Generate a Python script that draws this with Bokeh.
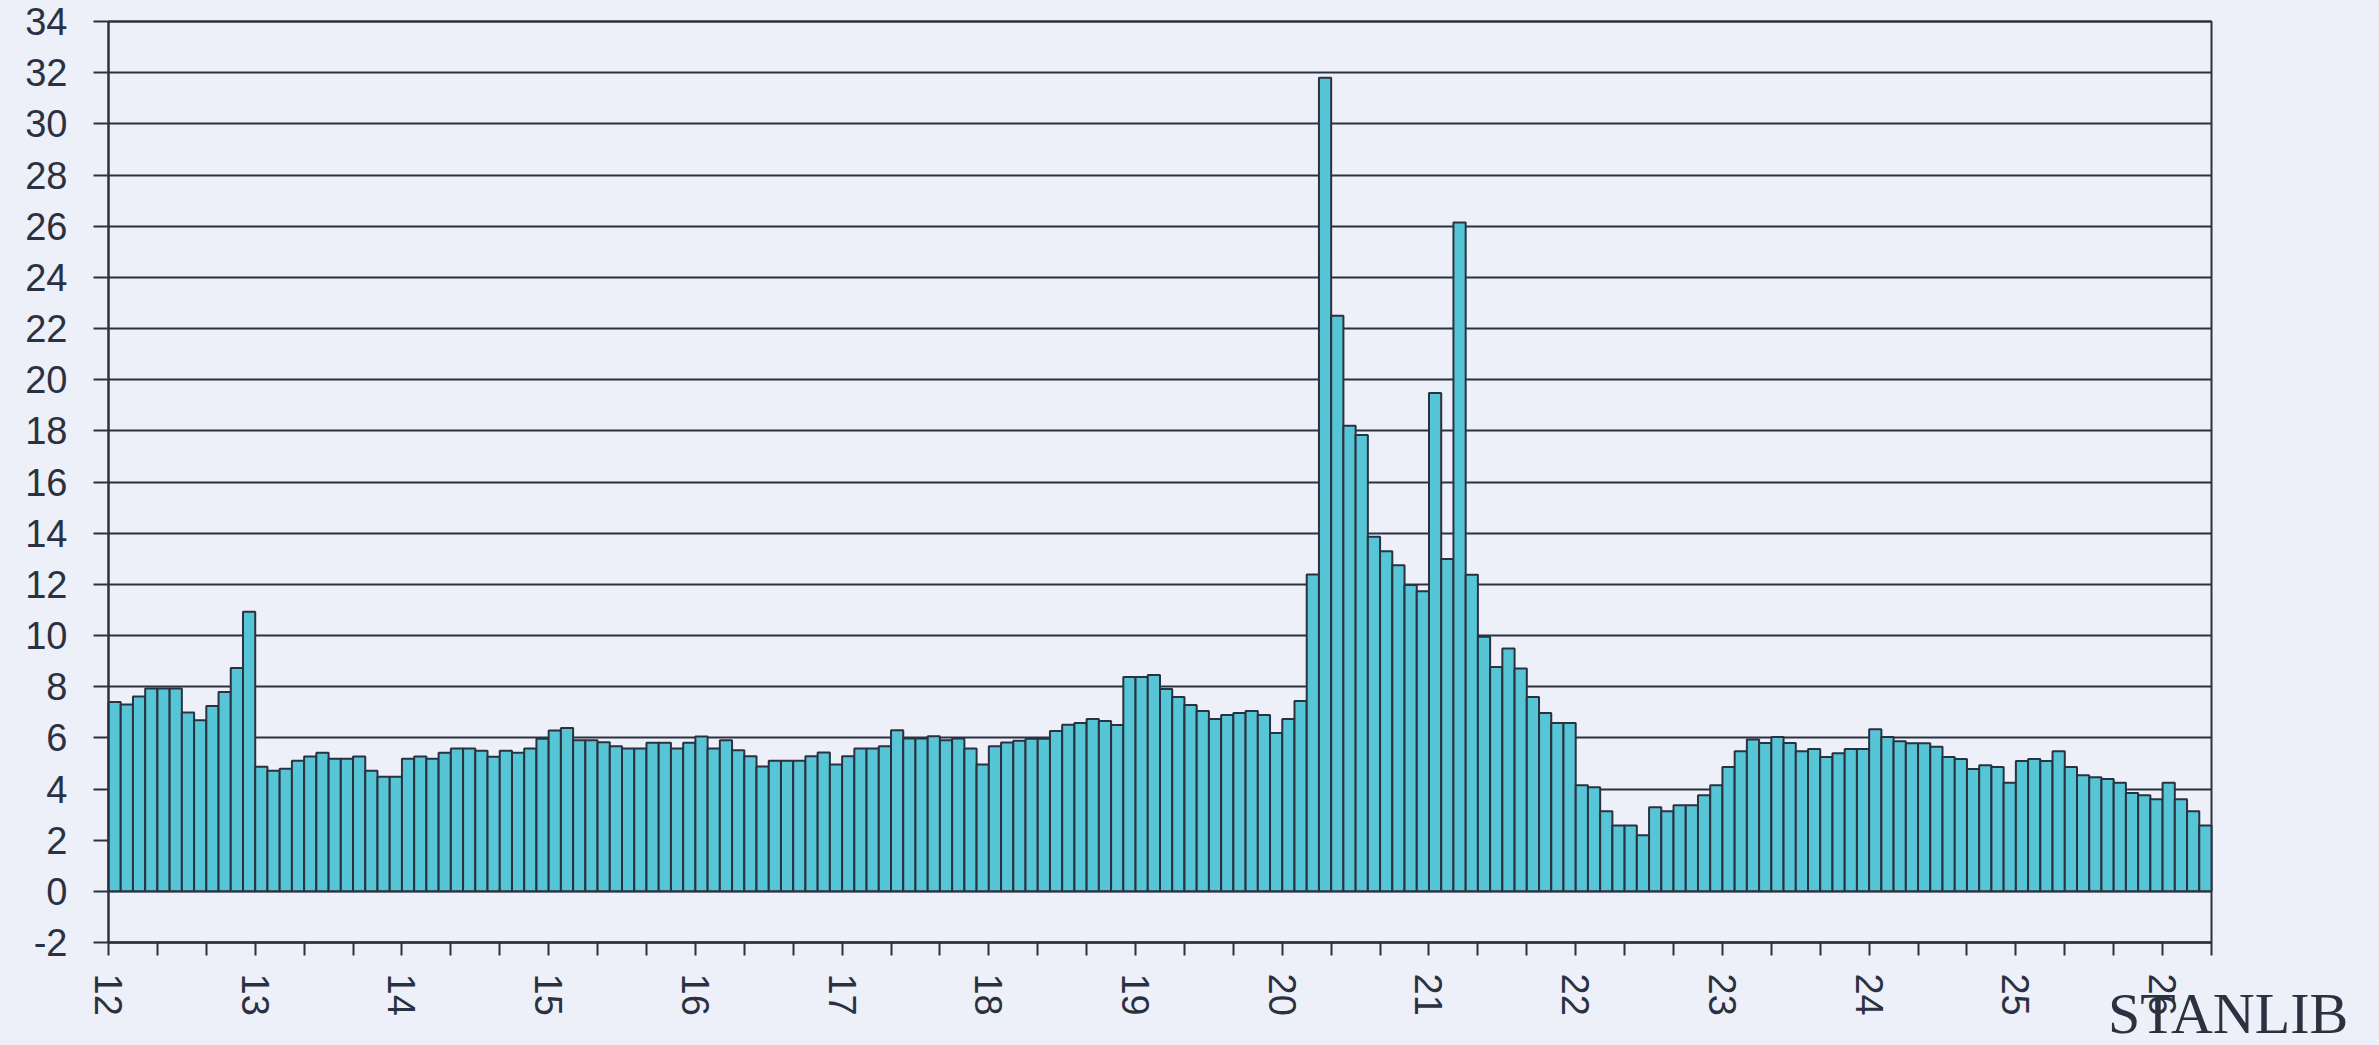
import math
from bokeh.plotting import figure
from bokeh.models import Range1d, FixedTicker, Label, ColumnDataSource, BoxAnnotation
from bokeh.embed import file_html
from bokeh.resources import INLINE

# ---- data (monthly values, Jan 2012 - Apr 2026) ----
year_labels = ["12", "13", "14", "15", "16", "17", "18", "19", "20", "21", "22", "23", "24", "25", "26"]
v2012 = [7.40, 7.30, 7.62, 7.93, 7.93, 7.93, 6.99, 6.69, 7.24, 7.79, 8.73, 10.93]
v2013 = [4.87, 4.71, 4.79, 5.10, 5.27, 5.42, 5.18, 5.18, 5.27, 4.71, 4.48, 4.48]
v2014 = [5.18, 5.27, 5.18, 5.42, 5.58, 5.58, 5.50, 5.26, 5.50, 5.42, 5.58, 5.96]
v2015 = [6.29, 6.38, 5.91, 5.91, 5.83, 5.67, 5.58, 5.58, 5.81, 5.81, 5.58, 5.81]
v2016 = [6.05, 5.58, 5.91, 5.51, 5.28, 4.88, 5.10, 5.10, 5.10, 5.28, 5.43, 4.96]
v2017 = [5.28, 5.58, 5.58, 5.67, 6.30, 5.97, 5.97, 6.06, 5.91, 5.97, 5.58, 4.96]
v2018 = [5.67, 5.82, 5.89, 5.96, 5.96, 6.27, 6.51, 6.58, 6.74, 6.66, 6.50, 8.38]
v2019 = [8.38, 8.46, 7.91, 7.60, 7.28, 7.05, 6.74, 6.89, 6.97, 7.05, 6.89, 6.19]
v2020 = [6.74, 7.44, 12.38, 31.80, 22.50, 18.20, 17.84, 13.86, 13.29, 12.75, 11.97, 11.73]
v2021 = [19.48, 12.99, 26.14, 12.37, 9.95, 8.77, 9.49, 8.71, 7.60, 6.97, 6.58, 6.58]
v2022 = [4.15, 4.07, 3.13, 2.57, 2.57, 2.19, 3.29, 3.13, 3.36, 3.36, 3.76, 4.15]
v2023 = [4.86, 5.48, 5.93, 5.80, 6.03, 5.80, 5.48, 5.56, 5.25, 5.40, 5.56, 5.56]
v2024 = [6.34, 6.03, 5.87, 5.79, 5.79, 5.65, 5.25, 5.17, 4.78, 4.93, 4.86, 4.24]
v2025 = [5.09, 5.17, 5.09, 5.48, 4.86, 4.54, 4.46, 4.39, 4.24, 3.84, 3.76, 3.60]
v2026 = [4.24, 3.60, 3.13, 2.57]

y_ticks = list(range(-2, 35, 2))
logo_text = "STANLIB"

values = (v2012 + v2013 + v2014 + v2015 + v2016 + v2017 + v2018 + v2019 +
          v2020 + v2021 + v2022 + v2023 + v2024 + v2025 + v2026)
months = [i + 0.5 for i in range(len(values))]
n_months = len(values)
y_lo, y_hi = y_ticks[0], y_ticks[-1]

BG = "#EDF0F9"
DARK = "#2B3140"
BAR = "#56C5D6"
FONT = "Liberation Sans"

# layout: the plot box of the reference is 2103 x 921 px, placed at (108, 21).
# The frame covers the whole canvas; both axes are drawn at fixed locations so
# that tick labels and the logo are inside the frame.
W, H = 2379, 1045
LEFT, TOP = 108, 21
BOX_W, BOX_H = 2103, 921
pxm = BOX_W / n_months            # px per month
pxu = BOX_H / (y_hi - y_lo)       # px per unit
x_range = Range1d(-LEFT / pxm, (W - LEFT) / pxm)
y_range = Range1d(y_hi - (H - TOP) / pxu, y_hi + TOP / pxu)

p = figure(
    width=W, height=H,
    frame_width=W, frame_height=H,
    x_range=x_range, y_range=y_range,
    output_backend="svg", toolbar_location=None,
    min_border=0,
)
p.background_fill_color = BG
p.border_fill_color = BG
p.outline_line_color = None

# plot box (top, right, bottom and left edges)
box = BoxAnnotation(left=0, right=n_months, bottom=y_lo, top=y_hi,
                    fill_color=None, fill_alpha=0, line_color=DARK, line_alpha=1.0,
                    line_width=2, level="underlay")
p.add_layout(box)

src = ColumnDataSource(dict(x=months, top=values))
p.vbar(x="x", top="top", bottom=0, width=1.0, source=src,
       fill_color=BAR, line_color=DARK, line_width=2)

# y axis at x = 0
p.yaxis.fixed_location = 0
p.yaxis.ticker = FixedTicker(ticks=y_ticks)
p.yaxis.bounds = (y_lo, y_hi)
p.yaxis.major_label_overrides = {t: str(t) for t in y_ticks}
p.yaxis.minor_tick_line_color = None
p.yaxis.major_tick_in = 0
p.yaxis.major_tick_out = 15
p.yaxis.major_tick_line_width = 2
p.yaxis.major_tick_line_color = DARK
p.yaxis.axis_line_color = DARK
p.yaxis.axis_line_width = 2
p.yaxis.major_label_standoff = 26
p.yaxis.major_label_text_font = FONT
p.yaxis.major_label_text_font_size = "38px"
p.yaxis.major_label_text_color = DARK

# x axis at y = -2: ticks every 4 months, labels at years
x_ticks = list(range(0, n_months + 1, 4))
overrides = {t: "" for t in x_ticks}
for k, lab in enumerate(year_labels):
    overrides[k * 12] = lab
p.xaxis.fixed_location = y_lo
p.xaxis.bounds = (0, n_months)
p.xaxis.ticker = FixedTicker(ticks=x_ticks)
p.xaxis.major_label_overrides = overrides
p.xaxis.minor_tick_line_color = None
p.xaxis.major_tick_in = 0
p.xaxis.major_tick_out = 13
p.xaxis.major_tick_line_width = 2
p.xaxis.major_tick_line_color = DARK
p.xaxis.axis_line_color = DARK
p.xaxis.axis_line_width = 2
p.xaxis.major_label_orientation = -math.pi / 2
p.xaxis.major_label_standoff = 18
p.xaxis.major_label_text_font = FONT
p.xaxis.major_label_text_font_size = "38px"
p.xaxis.major_label_text_color = DARK

p.xgrid.grid_line_color = None
yg = p.ygrid[0]
yg.ticker = FixedTicker(ticks=y_ticks)
yg.grid_line_color = DARK
yg.grid_line_width = 2
if "cross_bounds" in yg.properties():
    yg.cross_bounds = (0, n_months)

logo = Label(x=173.35, y=-3.50, text=logo_text, text_font="Liberation Serif",
             text_font_size="58px", text_color=DARK, text_baseline="top",
             text_align="center")
p.add_layout(logo)

open("out.html", "w").write(file_html(p, INLINE).replace("<head>", "<head><style>body{background:#EDF0F9;}</style>", 1))
